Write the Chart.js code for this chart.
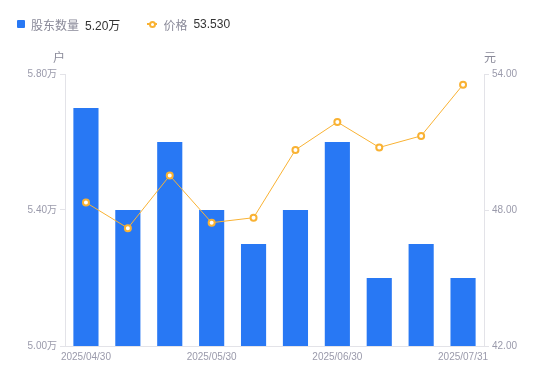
<!DOCTYPE html>
<html>
<head>
<meta charset="utf-8">
<script src="https://cdn.jsdelivr.net/npm/chart.js@4/dist/chart.umd.min.js"></script>
<style>
  html, body { margin: 0; padding: 0; background: #fff; }
  #wrap { position: relative; width: 550px; height: 381px; font-family: "Liberation Sans", Arial, "Noto Sans CJK SC", sans-serif; }
  #c { position: absolute; left: 0; top: 0; }
  #legend { position: absolute; left: 17px; top: 16px; height: 16px; display: flex; align-items: center; font-size: 12px; }
  .sw { display: inline-block; width: 8px; height: 8px; background: #2878f4; border-radius: 1px; margin-right: 6px; }
  .lbl { color: #8a8a99; margin-right: 6px; }
  .val { color: #333; }
  .lm { position: relative; display: inline-block; width: 10px; height: 10px; margin: 0 6px 0 27px; }
  .lm:before { content: ""; position: absolute; left: 0; right: 0; top: 4px; height: 2px; background: #f9b233; }
  .lm:after { content: ""; position: absolute; left: 1.5px; top: 1.5px; width: 3px; height: 3px; border: 2px solid #f9b233; background: #fff; border-radius: 50%; }
</style>
</head>
<body>
<div id="wrap">
  <canvas id="c" width="550" height="381"></canvas>
  <div id="legend">
    <span class="sw"></span><span class="lbl">股东数量</span><span class="val">5.20万</span>
    <span class="lm"></span><span class="lbl">价格</span><span class="val">53.530</span>
  </div>
</div>
<script>
const categories = ["2025/04/30","2025/05/10","2025/05/20","2025/05/30","2025/06/10","2025/06/20","2025/06/30","2025/07/10","2025/07/20","2025/07/31"];
const shownLabels = ["2025/04/30","2025/05/30","2025/06/30","2025/07/31"];
const holders = [5.70, 5.40, 5.60, 5.40, 5.30, 5.40, 5.60, 5.20, 5.30, 5.20]; // 万户
const prices = [48.33, 47.20, 49.52, 47.44, 47.66, 50.65, 51.88, 50.76, 51.27, 53.53]; // 元
const leftTicks = [5.00, 5.40, 5.80];
const rightTicks = [42, 48, 54];

const FONT = '"Liberation Sans", Arial, "Noto Sans CJK SC", sans-serif';
const TICK_COLOR = '#9a9aab';
const AXIS_COLOR = '#e3e3e8';

const titlePlugin = {
  id: 'axisTitles',
  afterDraw(chart) {
    const ctx = chart.ctx;
    const top = chart.chartArea.top;
    ctx.save();
    ctx.font = '12px ' + FONT;
    ctx.fillStyle = '#8a8a99';
    ctx.textAlign = 'center';
    ctx.textBaseline = 'middle';
    ctx.fillText('户', chart.chartArea.left - 6, top - 15);
    ctx.fillText('元', chart.chartArea.right + 6, top - 15);
    ctx.restore();
  }
};

new Chart(document.getElementById('c'), {
  data: {
    labels: categories,
    datasets: [
      {
        type: 'line',
        label: '价格',
        data: prices,
        yAxisID: 'yR',
        borderColor: '#f9b233',
        borderWidth: 1,
        backgroundColor: '#ffffff',
        pointBackgroundColor: '#ffffff',
        pointBorderColor: '#f9b233',
        pointBorderWidth: 2,
        pointRadius: 3,
        tension: 0,
        order: 0
      },
      {
        type: 'bar',
        label: '股东数量',
        data: holders,
        yAxisID: 'yL',
        backgroundColor: '#2878f4',
        barPercentage: 0.6,
        categoryPercentage: 1.0,
        order: 1
      }
    ]
  },
  options: {
    responsive: false,
    animation: false,
    devicePixelRatio: 1,
    layout: { padding: { top: 74, left: 0, right: 0, bottom: 0 } },
    plugins: { legend: { display: false }, tooltip: { enabled: false } },
    scales: {
      x: {
        offset: true,
        grid: { display: false, drawTicks: false },
        border: { display: true, color: AXIS_COLOR },
        ticks: {
          autoSkip: false,
          maxRotation: 0,
          padding: 5,
          color: TICK_COLOR,
          font: { size: 10, family: FONT },
          callback: function(v, i) { const l = categories[i]; return shownLabels.includes(l) ? l : ''; }
        },
        afterFit(s) { s.height = 35; }
      },
      yL: {
        position: 'left',
        min: 5.0, max: 5.8,
        afterBuildTicks(s) { s.ticks = leftTicks.map(v => ({ value: v })); },
        grid: { drawOnChartArea: false, drawTicks: true, tickLength: 5, color: AXIS_COLOR },
        border: { display: true, color: AXIS_COLOR },
        ticks: {
          padding: 3,
          color: TICK_COLOR,
          font: { size: 10, family: FONT },
          callback: v => v.toFixed(2) + '万'
        },
        afterFit(s) { s.width = 65; }
      },
      yR: {
        position: 'right',
        min: 42, max: 54,
        afterBuildTicks(s) { s.ticks = rightTicks.map(v => ({ value: v })); },
        grid: { drawOnChartArea: false, drawTicks: true, tickLength: 5, color: AXIS_COLOR },
        border: { display: true, color: AXIS_COLOR },
        ticks: {
          padding: 3,
          color: TICK_COLOR,
          font: { size: 10, family: FONT },
          callback: v => v.toFixed(2)
        },
        afterFit(s) { s.width = 66; }
      }
    }
  },
  plugins: [titlePlugin]
});
</script>
</body>
</html>
